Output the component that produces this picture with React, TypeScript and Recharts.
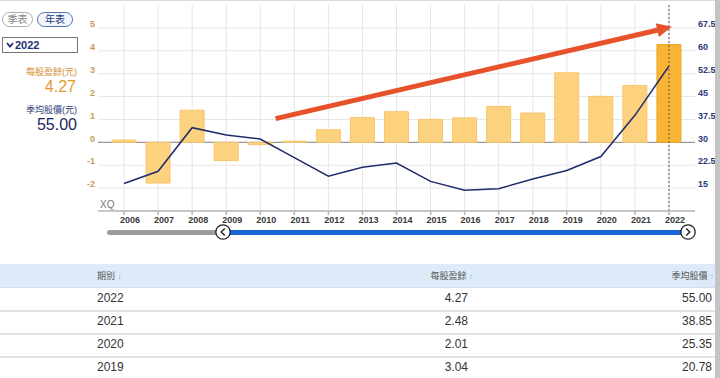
import React from "react";
import {
  ComposedChart,
  Bar,
  Line,
  XAxis,
  YAxis,
  ReferenceLine,
  Cell,
} from "recharts";

const years = [
  "2006", "2007", "2008", "2009", "2010", "2011", "2012", "2013", "2014",
  "2015", "2016", "2017", "2018", "2019", "2020", "2021", "2022",
];
const eps = [
  0.1, -1.78, 1.4, -0.8, -0.1, 0.05, 0.55, 1.08, 1.34, 1.0, 1.07, 1.57, 1.28,
  3.04, 2.01, 2.48, 4.27,
];
const avgPrice = [
  16.5, 20.5, 34.8, 32.4, 31.1, 25.0, 18.9, 21.8, 23.2, 17.2, 14.3, 14.8, 18.0,
  20.78, 25.35, 38.85, 55.0,
];
const epsTicks = [-2, -1, 0, 1, 2, 3, 4, 5];
const priceTicks = [15, 22.5, 30, 37.5, 45, 52.5, 60, 67.5];
const selectedYear = "2022";
// trend arrow, in (year, eps) terms
const trendStart = { year: "2010", eps: 0.88 };
const trendEnd = { year: "2022", eps: 5.02 };
const tableRows = 4;

const data = years.map((y, i) => ({ year: y, eps: eps[i], price: avgPrice[i] }));

const FONT = '"Liberation Sans", Arial, "Noto Sans CJK TC", sans-serif';

// arrow drawn on the reference segment; starts a bit after the first category
const TrendArrow = (p: any) => {
  const { x1, y1, x2, y2 } = p;
  if (x1 == null || x2 == null) return null;
  const steps = years.indexOf(trendEnd.year) - years.indexOf(trendStart.year);
  const f = 0.45 / steps;
  const sx = x1 + (x2 - x1) * f;
  const sy = y1 + (y2 - y1) * f;
  const ang = Math.atan2(y2 - sy, x2 - sx);
  const c = Math.cos(ang);
  const s = Math.sin(ang);
  const tx = x2 + 3 * c;
  const ty = y2 + 3 * s;
  const bx = tx - 15 * c;
  const by = ty - 15 * s;
  const hw = 7;
  const pts = `${tx},${ty} ${bx - hw * s},${by + hw * c} ${bx + hw * s},${by - hw * c}`;
  return (
    <g>
      <line x1={sx} y1={sy} x2={bx + 2 * c} y2={by + 2 * s} stroke="#e8522b" strokeWidth={5} />
      <polygon points={pts} fill="#e8522b" />
    </g>
  );
};

const Chevron = ({ dir }: { dir: "l" | "r" }) => (
  <svg width={16} height={16} style={{ display: "block" }}>
    <circle cx={8} cy={8} r={7.2} fill="#fff" stroke="#222" strokeWidth={1.3} />
    <path
      d={dir === "l" ? "M9.8,4.6 L6.2,8 L9.8,11.4" : "M6.2,4.6 L9.8,8 L6.2,11.4"}
      fill="none"
      stroke="#222"
      strokeWidth={1.4}
    />
  </svg>
);

const T = ({
  x,
  y,
  right,
  size,
  color,
  bold,
  children,
}: {
  x: number;
  y: number;
  right?: boolean;
  size: number;
  color: string;
  bold?: boolean;
  children: React.ReactNode;
}) => (
  <div
    style={{
      position: "absolute",
      top: y - 10,
      height: 20,
      lineHeight: "20px",
      fontSize: size,
      color,
      fontWeight: bold ? "bold" : "normal",
      whiteSpace: "nowrap",
      ...(right ? { right: 720 - x, textAlign: "right" as const } : { left: x }),
    }}
  >
    {children}
  </div>
);

const App = () => {
  const last = data.slice(-tableRows).reverse();
  return (
    <div
      style={{
        position: "fixed",
        left: 0,
        top: 0,
        width: 720,
        height: 378,
        overflow: "hidden",
        background: "#fff",
        fontFamily: FONT,
      }}
    >
      <div style={{ position: "absolute", left: 0, top: 0, width: 720, height: 1, background: "#ddd" }} />
      <div style={{ position: "absolute", left: 0, top: 0 }}>
        <ComposedChart
          width={720}
          height={240}
          data={data}
          margin={{ top: 5, right: 0, bottom: 0, left: 0 }}
        >
          <XAxis
            dataKey="year"
            padding={{ left: 9, right: 9 }}
            height={29}
            stroke="#b5b5b5"
            strokeWidth={1.5}
            tickSize={4}
            tickMargin={2}
            tick={{ fontSize: 9, fill: "#3a3a3a", fontWeight: "bold", fontFamily: FONT, dx: 6 }}
          />
          <YAxis
            yAxisId="left"
            width={98}
            domain={[-3, 6]}
            ticks={epsTicks}
            axisLine={false}
            tickLine={false}
            tickSize={0}
            tickMargin={3}
            tick={{ fontSize: 9, fill: "#c49c58", fontWeight: "bold", fontFamily: FONT, dy: -4 }}
          />
          <YAxis
            yAxisId="right"
            orientation="right"
            width={25}
            domain={[7.5, 75]}
            ticks={priceTicks}
            axisLine={false}
            tickLine={false}
            tickSize={0}
            tickMargin={3}
            tick={{ fontSize: 9, fill: "#2b3a7a", fontWeight: "bold", fontFamily: FONT, dy: -4 }}
          />
          {/* grid at the tick positions only (no frame) */}
          {epsTicks
            .filter((t) => t !== 0)
            .map((t) => (
              <ReferenceLine key={"h" + t} yAxisId="left" y={t} stroke="#e6e6e6" zIndex={-100} />
            ))}
          {years.map((y) => (
            <ReferenceLine key={"v" + y} yAxisId="left" x={y} stroke="#e6e6e6" zIndex={-100} />
          ))}
          <ReferenceLine yAxisId="left" y={0} stroke="#9a9a9a" strokeWidth={1.2} zIndex={-50} />
          <Bar yAxisId="left" dataKey="eps" barSize={24} isAnimationActive={false}>
            {data.map((d) => (
              <Cell
                key={d.year}
                fill={d.year === selectedYear ? "#f8b434" : "#fdd27e"}
                stroke={d.year === selectedYear ? "#e9a427" : "#f5c56c"}
                strokeWidth={1}
              />
            ))}
          </Bar>
          <Line
            yAxisId="right"
            dataKey="price"
            type="linear"
            stroke="#1f2c6c"
            strokeWidth={1.5}
            dot={false}
            isAnimationActive={false}
          />
          <ReferenceLine
            yAxisId="left"
            x={selectedYear}
            stroke="#555"
            strokeWidth={1}
            strokeDasharray="2 2"
          />
          <ReferenceLine
            yAxisId="left"
            segment={[
              { x: trendStart.year, y: trendStart.eps },
              { x: trendEnd.year, y: trendEnd.eps },
            ]}
            shape={TrendArrow}
          />
        </ComposedChart>
      </div>

      {/* XQ mark */}
      <div style={{ position: "absolute", left: 100, top: 199, fontSize: 10, color: "#777", lineHeight: "12px" }}>
        XQ
      </div>

      {/* range slider */}
      <div style={{ position: "absolute", left: 107, top: 229.5, width: 120, height: 5, borderRadius: 3, background: "#9c9c9c" }} />
      <div style={{ position: "absolute", left: 222, top: 229.5, width: 466, height: 5, background: "#1764d6" }} />
      <div style={{ position: "absolute", left: 214.5, top: 224.3 }}>
        <Chevron dir="l" />
      </div>
      <div style={{ position: "absolute", left: 680, top: 224.3 }}>
        <Chevron dir="r" />
      </div>

      {/* left panel */}
      <div
        style={{
          position: "absolute", left: 2, top: 12, width: 29, height: 13, border: "1px solid #aaa",
          borderRadius: 8, fontSize: 10, lineHeight: "13px", color: "#888", textAlign: "center",
        }}
      >
        季表
      </div>
      <div
        style={{
          position: "absolute", left: 37, top: 12, width: 34, height: 13, border: "1px solid #4f70b3",
          borderRadius: 8, fontSize: 10, lineHeight: "13px", color: "#22397a", textAlign: "center",
          background: "#f3f6fc",
        }}
      >
        年表
      </div>
      <div
        style={{
          position: "absolute", left: 2, top: 37, width: 74, height: 14, border: "1px solid #777",
          background: "#fff",
        }}
      >
        <svg width={10} height={14} style={{ position: "absolute", left: 2, top: 0 }}>
          <path d="M2,5 L5,8.5 L8,5" fill="none" stroke="#1d2f6f" strokeWidth={1.8} />
        </svg>
        <div style={{ position: "absolute", left: 12, top: 0, fontSize: 11, lineHeight: "14px", color: "#1d2f6f", fontWeight: "bold" }}>
          {selectedYear}
        </div>
      </div>
      <T x={77} y={72} right size={9} color="#d68b2c">每股盈餘(元)</T>
      <T x={76} y={87} right size={16} color="#e29a2e">
        {eps[years.indexOf(selectedYear)].toFixed(2)}
      </T>
      <T x={77} y={110} right size={9} color="#2b3b78">季均股價(元)</T>
      <T x={77} y={125} right size={16} color="#1a2560">
        {avgPrice[years.indexOf(selectedYear)].toFixed(2)}
      </T>

      {/* table */}
      <div style={{ position: "absolute", left: 0, top: 264, width: 716, height: 23, background: "#ddebf8" }} />
      <div style={{ position: "absolute", left: 0, top: 287, width: 716, height: 1, background: "#cfdcea" }} />
      <T x={97} y={275.5} size={9} color="#555">
        期別 <span style={{ fontSize: 8, color: "#999" }}>↓</span>
      </T>
      <T x={473} y={275.5} right size={9} color="#555">
        每股盈餘 <span style={{ fontSize: 8, color: "#bbb" }}>↕</span>
      </T>
      <T x={714} y={275.5} right size={9} color="#555">
        季均股價 <span style={{ fontSize: 8, color: "#bbb" }}>↕</span>
      </T>
      {last.map((r, i) => (
        <React.Fragment key={r.year}>
          <T x={97} y={298 + i * 23} size={12} color="#333">{r.year}</T>
          <T x={468} y={298 + i * 23} right size={12} color="#333">{r.eps.toFixed(2)}</T>
          <T x={712} y={298 + i * 23} right size={12} color="#333">{r.price.toFixed(2)}</T>
          {i < tableRows - 1 && (
            <div style={{ position: "absolute", left: 0, top: 309.5 + i * 23, width: 716, height: 2, background: "#e3e3e3" }} />
          )}
        </React.Fragment>
      ))}

      {/* right edge strip */}
      <div style={{ position: "absolute", left: 715, top: 0, width: 5, height: 378, background: "#c4c4c4" }} />
    </div>
  );
};

export default App;
